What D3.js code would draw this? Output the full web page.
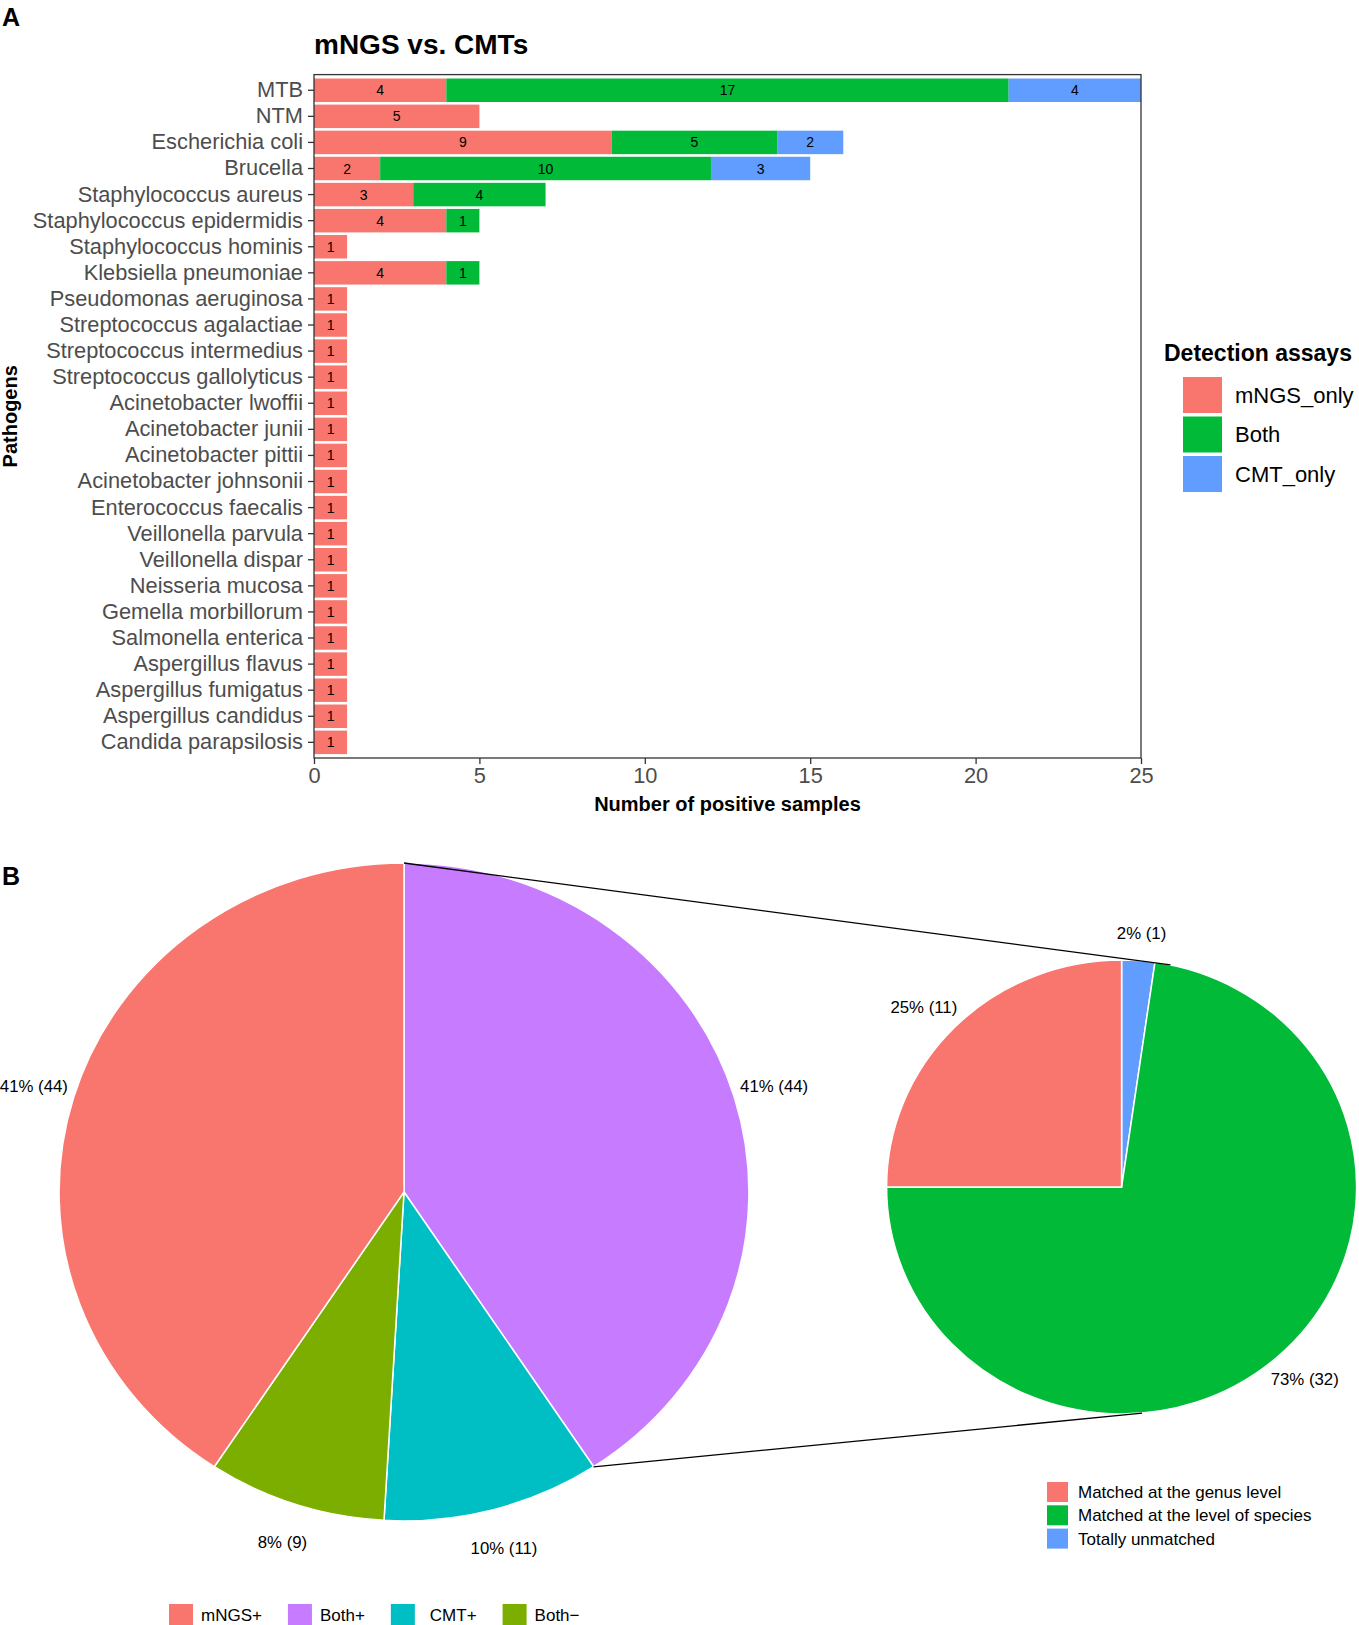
<!DOCTYPE html>
<html>
<head>
<meta charset="utf-8">
<script src="https://cdn.jsdelivr.net/npm/d3@7"></script>
<style>
  body { margin: 0; background: #fff; }
  text { font-family: "Liberation Sans", Arial, sans-serif; }
</style>
</head>
<body>
<div id="chart"></div>
<script>
// Panel A: pathogens detected, stacked by detection assay
var pathogens = ["MTB", "NTM", "Escherichia coli", "Brucella", "Staphylococcus aureus",
  "Staphylococcus epidermidis", "Staphylococcus hominis", "Klebsiella pneumoniae",
  "Pseudomonas aeruginosa", "Streptococcus agalactiae", "Streptococcus intermedius",
  "Streptococcus gallolyticus", "Acinetobacter lwoffii", "Acinetobacter junii",
  "Acinetobacter pittii", "Acinetobacter johnsonii", "Enterococcus faecalis",
  "Veillonella parvula", "Veillonella dispar", "Neisseria mucosa", "Gemella morbillorum",
  "Salmonella enterica", "Aspergillus flavus", "Aspergillus fumigatus",
  "Aspergillus candidus", "Candida parapsilosis"];
var mngsOnly = [4, 5, 9, 2, 3, 4, 1, 4, 1, 1, 1, 1, 1, 1, 1, 1, 1, 1, 1, 1, 1, 1, 1, 1, 1, 1];
var bothPos  = [17, 0, 5, 10, 4, 1, 0, 1, 0, 0, 0, 0, 0, 0, 0, 0, 0, 0, 0, 0, 0, 0, 0, 0, 0, 0];
var cmtOnly  = [4, 0, 2, 3, 0, 0, 0, 0, 0, 0, 0, 0, 0, 0, 0, 0, 0, 0, 0, 0, 0, 0, 0, 0, 0, 0];
var assays = ["mNGS_only", "Both", "CMT_only"];
var assayColors = ["#F8766D", "#00BA38", "#619CFF"];
var xTicks = [0, 5, 10, 15, 20, 25];

// Panel B: overall agreement (big pie) and matching of Both+ (small pie)
var agreeCats = ["Both+", "CMT+", "Both\u2212", "mNGS+"];
var agreeCounts = [44, 11, 9, 44];
var agreeColors = ["#C77CFF", "#00BFC4", "#7CAE00", "#F8766D"];
var legendOrder = ["mNGS+", "Both+", "CMT+", "Both\u2212"];

var matchCats = ["Totally unmatched", "Matched at the level of species", "Matched at the genus level"];
var matchCounts = [1, 32, 11];
var matchColors = ["#619CFF", "#00BA38", "#F8766D"];
var matchLegendOrder = ["Matched at the genus level", "Matched at the level of species", "Totally unmatched"];

var W = 1359, H = 1625;
var svg = d3.select("#chart").append("svg").attr("width", W).attr("height", H);

// ---------- Panel A ----------
var pA = {left: 314, right: 1141, top: 74.6, bottom: 758};

svg.append("text").attr("x", 2).attr("y", 26)
   .style("font-size", "25px").style("font-weight", "bold").text("A");
svg.append("text").attr("x", pA.left).attr("y", 54)
   .style("font-size", "28px").style("font-weight", "bold").text("mNGS vs. CMTs");

var x = d3.scaleLinear().domain([0, 25]).range([pA.left, pA.right]);
var y = d3.scaleBand().domain(pathogens).range([pA.top, pA.bottom])
          .paddingInner(0.1).paddingOuter(0.15);

var rows = pathogens.map(function(p, i) {
  return {name: p, mNGS_only: mngsOnly[i], Both: bothPos[i], CMT_only: cmtOnly[i]};
});
var stacked = d3.stack().keys(assays)(rows);
var color = d3.scaleOrdinal().domain(assays).range(assayColors);

var layers = svg.append("g").selectAll("g").data(stacked).enter().append("g")
   .attr("fill", function(d) { return color(d.key); });
layers.selectAll("rect").data(function(d) { return d.filter(function(s) { return s[1] > s[0]; }); })
   .enter().append("rect")
   .attr("x", function(d) { return x(d[0]); })
   .attr("width", function(d) { return x(d[1]) - x(d[0]); })
   .attr("y", function(d) { return y(d.data.name); })
   .attr("height", y.bandwidth());

layers.selectAll("text").data(function(d) { return d.filter(function(s) { return s[1] > s[0]; }); })
   .enter().append("text")
   .attr("x", function(d) { return (x(d[0]) + x(d[1])) / 2; })
   .attr("y", function(d) { return y(d.data.name) + y.bandwidth() / 2; })
   .attr("dy", "0.36em").attr("text-anchor", "middle")
   .attr("fill", "#000")
   .style("font-family", "'Liberation Sans Narrow', 'Liberation Sans', Arial, sans-serif")
   .style("font-size", "14px")
   .text(function(d) { return d[1] - d[0]; });

// panel border
svg.append("rect").attr("x", pA.left).attr("y", pA.top)
   .attr("width", pA.right - pA.left).attr("height", pA.bottom - pA.top)
   .attr("fill", "none").attr("stroke", "#333").attr("stroke-width", 1.3);

var xAxis = svg.append("g").attr("transform", "translate(0," + pA.bottom + ")")
   .call(d3.axisBottom(x).tickValues(xTicks).tickSize(6).tickPadding(4));
var yAxis = svg.append("g").attr("transform", "translate(" + pA.left + ",0)")
   .call(d3.axisLeft(y).tickSize(6).tickPadding(5));
[xAxis, yAxis].forEach(function(a) {
  a.select(".domain").remove();
  a.selectAll(".tick line").attr("stroke", "#333").attr("stroke-width", 1.3);
  a.selectAll(".tick text").attr("fill", "#4D4D4D")
   .style("font-family", "'Liberation Sans', Arial, sans-serif").style("font-size", "21.8px");
});

svg.append("text").attr("x", (pA.left + pA.right) / 2).attr("y", 811)
   .attr("text-anchor", "middle").style("font-size", "20px").style("font-weight", "bold")
   .text("Number of positive samples");
svg.append("text").attr("transform", "translate(17," + ((pA.top + pA.bottom) / 2) + ") rotate(-90)")
   .attr("text-anchor", "middle").style("font-size", "20px").style("font-weight", "bold")
   .text("Pathogens");

// legend A
var legA = svg.append("g");
legA.append("text").attr("x", 1164).attr("y", 361)
   .style("font-size", "23px").style("font-weight", "bold").text("Detection assays");
var legAItems = legA.selectAll("g.item").data(assays).enter().append("g")
   .attr("transform", function(d, i) { return "translate(1183," + (377 + i * 39.5) + ")"; });
legAItems.append("rect").attr("width", 39).attr("height", 36)
   .attr("fill", function(d) { return color(d); });
legAItems.append("text").attr("x", 52).attr("y", 18).attr("dy", "0.36em")
   .style("font-size", "22px").text(function(d) { return d; });

// ---------- Panel B ----------
svg.append("text").attr("x", 2).attr("y", 885)
   .style("font-size", "25px").style("font-weight", "bold").text("B");

var big = {cx: 404, cy: 1192, rx: 345, ry: 329, lx: 1.12, ly: 1.12};
var small = {cx: 1121.6, cy: 1187, rx: 235, ry: 227, lx: 1.19, ly: 1.12};

var pie = d3.pie().sort(null).value(function(d) { return d; });
var unitArc = d3.arc().innerRadius(0).outerRadius(1);

function ellPoint(e, angle, fx, fy) {
  return [e.cx + Math.sin(angle) * e.rx * fx, e.cy - Math.cos(angle) * e.ry * fy];
}

function drawPie(e, counts, colors) {
  var arcs = pie(counts);
  var total = d3.sum(counts);
  var g = svg.append("g");
  g.selectAll("path").data(arcs).enter().append("path")
   .attr("transform", "translate(" + e.cx + "," + e.cy + ") scale(" + e.rx + "," + e.ry + ")")
   .attr("d", unitArc)
   .attr("fill", function(d, i) { return colors[i]; })
   .attr("stroke", "#fff").attr("stroke-width", 1.5)
   .attr("vector-effect", "non-scaling-stroke");
  g.selectAll("text").data(arcs).enter().append("text")
   .attr("x", function(d) { return ellPoint(e, (d.startAngle + d.endAngle) / 2, e.lx, e.ly)[0]; })
   .attr("y", function(d) { return ellPoint(e, (d.startAngle + d.endAngle) / 2, e.lx, e.ly)[1]; })
   .attr("dy", "0.36em").attr("text-anchor", "middle")
   .style("font-size", "16.8px")
   .text(function(d) { return Math.round(d.value / total * 100) + "% (" + d.value + ")"; });
  return arcs;
}

var bigArcs = drawPie(big, agreeCounts, agreeColors);
drawPie(small, matchCounts, matchColors);

// connector lines from Both+ slice to the breakdown pie
var p1 = ellPoint(big, bigArcs[0].startAngle, 1, 1),
    p2 = ellPoint(small, 12 * Math.PI / 180, 1, 1),
    p3 = ellPoint(big, bigArcs[0].endAngle, 1, 1),
    p4 = ellPoint(small, 175 * Math.PI / 180, 1, 1);
svg.append("line").attr("x1", p1[0]).attr("y1", p1[1]).attr("x2", p2[0]).attr("y2", p2[1])
   .attr("stroke", "#000").attr("stroke-width", 1.3);
svg.append("line").attr("x1", p3[0]).attr("y1", p3[1]).attr("x2", p4[0]).attr("y2", p4[1])
   .attr("stroke", "#000").attr("stroke-width", 1.3);

// small pie legend
var legS = svg.append("g").selectAll("g").data(matchLegendOrder).enter().append("g")
   .attr("transform", function(d, i) { return "translate(1047," + (1482 + i * 23.3) + ")"; });
legS.append("rect").attr("width", 21).attr("height", 20)
   .attr("fill", function(d) { return matchColors[matchCats.indexOf(d)]; });
legS.append("text").attr("x", 31).attr("y", 10).attr("dy", "0.36em")
   .style("font-size", "17px").text(function(d) { return d; });

// big pie legend (horizontal, bottom)
var legB = svg.append("g").attr("transform", "translate(169,1604)");
var cursor = 0;
legendOrder.forEach(function(name) {
  var item = legB.append("g").attr("transform", "translate(" + cursor + ",0)");
  item.append("rect").attr("width", 24).attr("height", 22)
      .attr("fill", agreeColors[agreeCats.indexOf(name)]);
  var t = item.append("text").attr("x", name === "CMT+" ? 39 : 32).attr("y", 11).attr("dy", "0.36em")
      .style("font-size", "17px").text(name);
  cursor += (name === "CMT+" ? 39 : 32) + t.node().getComputedTextLength() + 26;
});
</script>
</body>
</html>
